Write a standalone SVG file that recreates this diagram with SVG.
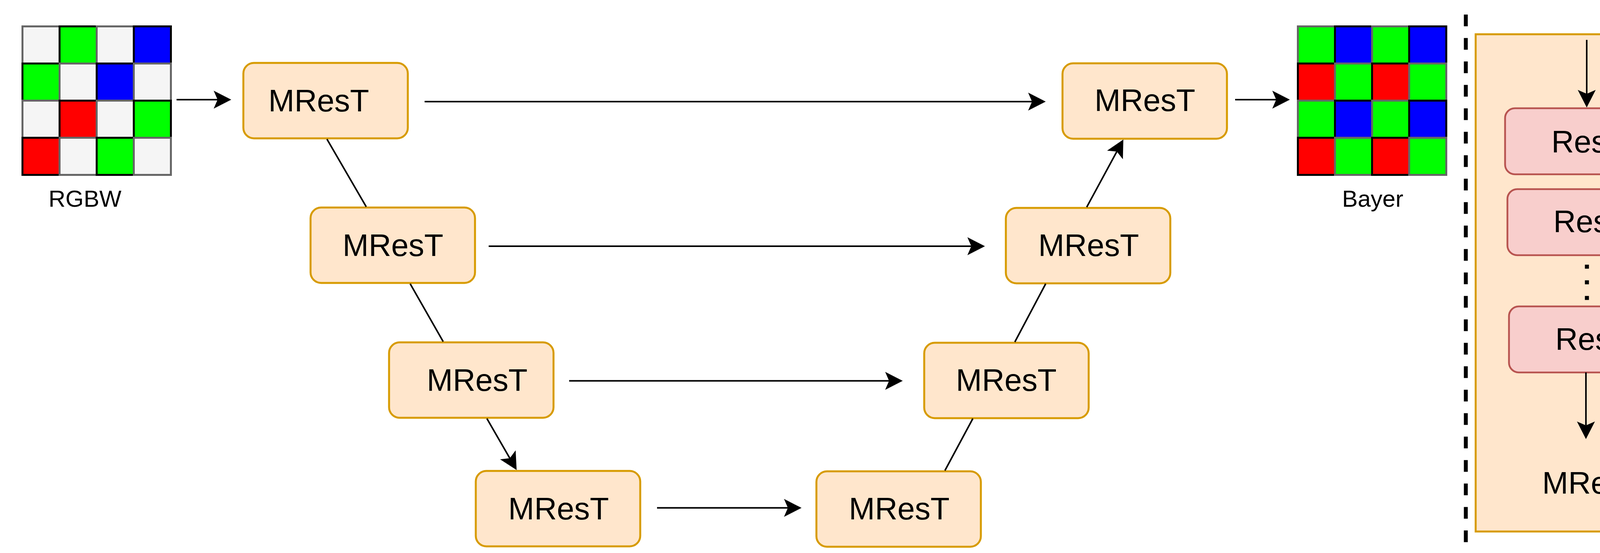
<svg xmlns="http://www.w3.org/2000/svg" width="4415" height="1415" viewBox="0 0 4415 1415">
<style>
  text { font-family: "Liberation Sans", Arial, Helvetica, sans-serif; fill: #000; }
  .lbl { font-size: 60px; text-anchor: middle; }
  .big { font-size: 80px; text-anchor: middle; }
  .mrest { fill: #ffe6cc; stroke: #d79b00; stroke-width: 5; }
  .rest { fill: #f8cecc; stroke: #b85450; stroke-width: 4.6; }
  .cw { fill: #f5f5f5; stroke: #666666; stroke-width: 5; }
  .cg { fill: #00ff00; stroke: #000000; stroke-width: 5; }
  .cgg { fill: #00ff00; stroke: #666666; stroke-width: 5; }
  .cb { fill: #0000ff; stroke: #000000; stroke-width: 5; }
  .cr { fill: #ff0000; stroke: #000000; stroke-width: 5; }
  .edge { fill: none; stroke: #000; stroke-width: 4; }
  .arrow { fill: none; stroke: #000; stroke-width: 4; marker-end: url(#ah); }
</style>
<defs>
  <marker id="ah" markerUnits="userSpaceOnUse" viewBox="-12 -25 50 50" markerWidth="50" markerHeight="50" refX="0" refY="0" orient="auto">
    <path d="M-10,-23 L35,0 L-10,23 L0,0 Z" fill="#000" stroke="none"/>
  </marker>
</defs>
<rect width="4415" height="1415" fill="#ffffff"/>

<g id="rgbw">
  <rect class="cw" x="57.5" y="67.5" width="95" height="95"/>
  <rect class="cg" x="152.5" y="67.5" width="95" height="95"/>
  <rect class="cw" x="247.5" y="67.5" width="95" height="95"/>
  <rect class="cb" x="342.5" y="67.5" width="95" height="95"/>
  <rect class="cg" x="57.5" y="162.5" width="95" height="95"/>
  <rect class="cw" x="152.5" y="162.5" width="95" height="95"/>
  <rect class="cb" x="247.5" y="162.5" width="95" height="95"/>
  <rect class="cw" x="342.5" y="162.5" width="95" height="95"/>
  <rect class="cw" x="57.5" y="257.5" width="95" height="95"/>
  <rect class="cr" x="152.5" y="257.5" width="95" height="95"/>
  <rect class="cw" x="247.5" y="257.5" width="95" height="95"/>
  <rect class="cg" x="342.5" y="257.5" width="95" height="95"/>
  <rect class="cr" x="57.5" y="352.5" width="95" height="95"/>
  <rect class="cw" x="152.5" y="352.5" width="95" height="95"/>
  <rect class="cg" x="247.5" y="352.5" width="95" height="95"/>
  <rect class="cw" x="342.5" y="352.5" width="95" height="95"/>
  <text class="lbl" x="217.5" y="529">RGBW</text>
</g>

<g id="bayer">
  <rect class="cgg" x="3322.5" y="67.5" width="95" height="95"/>
  <rect class="cb" x="3417.5" y="67.5" width="95" height="95"/>
  <rect class="cgg" x="3512.5" y="67.5" width="95" height="95"/>
  <rect class="cb" x="3607.5" y="67.5" width="95" height="95"/>
  <rect class="cr" x="3322.5" y="162.5" width="95" height="95"/>
  <rect class="cgg" x="3417.5" y="162.5" width="95" height="95"/>
  <rect class="cr" x="3512.5" y="162.5" width="95" height="95"/>
  <rect class="cgg" x="3607.5" y="162.5" width="95" height="95"/>
  <rect class="cgg" x="3322.5" y="257.5" width="95" height="95"/>
  <rect class="cb" x="3417.5" y="257.5" width="95" height="95"/>
  <rect class="cgg" x="3512.5" y="257.5" width="95" height="95"/>
  <rect class="cb" x="3607.5" y="257.5" width="95" height="95"/>
  <rect class="cr" x="3322.5" y="352.5" width="95" height="95"/>
  <rect class="cgg" x="3417.5" y="352.5" width="95" height="95"/>
  <rect class="cr" x="3512.5" y="352.5" width="95" height="95"/>
  <rect class="cgg" x="3607.5" y="352.5" width="95" height="95"/>
  <text class="lbl" x="3514" y="529">Bayer</text>
</g>

<g id="mrest1"><rect class="mrest" x="623" y="161" width="421" height="193" rx="27" ry="27"/><text class="big" x="816" y="285">MResT</text></g>
<g id="mrest2"><rect class="mrest" x="795" y="531" width="421" height="193" rx="27" ry="27"/><text class="big" x="1006" y="655">MResT</text></g>
<g id="mrest3"><rect class="mrest" x="996" y="876" width="421" height="193" rx="27" ry="27"/><text class="big" x="1221.5" y="1000">MResT</text></g>
<g id="mrest4"><rect class="mrest" x="1218" y="1205" width="421" height="193" rx="27" ry="27"/><text class="big" x="1430" y="1329">MResT</text></g>
<g id="mrest5"><rect class="mrest" x="2090" y="1206" width="421" height="193" rx="27" ry="27"/><text class="big" x="2302" y="1329">MResT</text></g>
<g id="mrest6"><rect class="mrest" x="2366" y="877" width="421" height="193" rx="27" ry="27"/><text class="big" x="2576" y="1000">MResT</text></g>
<g id="mrest7"><rect class="mrest" x="2575" y="532" width="421" height="193" rx="27" ry="27"/><text class="big" x="2787" y="655">MResT</text></g>
<g id="mrest8"><rect class="mrest" x="2720" y="162" width="421" height="193" rx="27" ry="27"/><text class="big" x="2931" y="284">MResT</text></g>

<g id="separator">
  <line x1="3752.5" y1="37.3" x2="3752.5" y2="1387.3" stroke="#000" stroke-width="10" stroke-dasharray="30 30"/>
</g>

<g id="mrest-detail">
  <rect x="3777.7" y="87.7" width="597.8" height="1272.3" fill="#ffe6cc" stroke="#d79b00" stroke-width="5"/>
  <text class="big" x="4077" y="1263">MResT</text>
</g>
<g id="rest1"><rect class="rest" x="3853" y="277" width="418" height="169" rx="25" ry="25"/><text class="big" x="4067" y="390">ResT</text></g>
<g id="rest2"><rect class="rest" x="3859" y="484" width="418" height="169" rx="25" ry="25"/><text class="big" x="4072" y="594">ResT</text></g>
<g id="rest-dots"><line x1="4062.5" y1="677.3" x2="4062.5" y2="770" stroke="#000" stroke-width="10.3" stroke-dasharray="10.3 29.7"/></g>
<g id="rest3"><rect class="rest" x="3863" y="784" width="418" height="169" rx="25" ry="25"/><text class="big" x="4077" y="895">ResT</text></g>

<g id="connectors">
  <line class="arrow" x1="452" y1="255" x2="557" y2="255"/>
  <line class="arrow" x1="1087" y1="260" x2="2642" y2="260"/>
  <line class="arrow" x1="3162" y1="255" x2="3267" y2="255"/>
  <line class="arrow" x1="1251" y1="630" x2="2486.5" y2="630"/>
  <line class="arrow" x1="1457" y1="974.5" x2="2276" y2="974.5"/>
  <line class="arrow" x1="1682" y1="1299.6" x2="2017" y2="1299.6"/>
  <line class="edge" x1="837" y1="356" x2="937.5" y2="529"/>
  <line class="edge" x1="1050" y1="726" x2="1134.5" y2="874"/>
  <line class="arrow" x1="1246.5" y1="1071" x2="1305.1" y2="1172.5"/>
  <line class="edge" x1="2419" y1="1204" x2="2490.5" y2="1071"/>
  <line class="edge" x1="2598" y1="875" x2="2677" y2="726"/>
  <line class="arrow" x1="2782" y1="530" x2="2859.1" y2="387.7"/>
  <line class="arrow" x1="4062" y1="102" x2="4062" y2="240"/>
  <line class="arrow" x1="4060" y1="953" x2="4060" y2="1088.5"/>
</g>
</svg>
